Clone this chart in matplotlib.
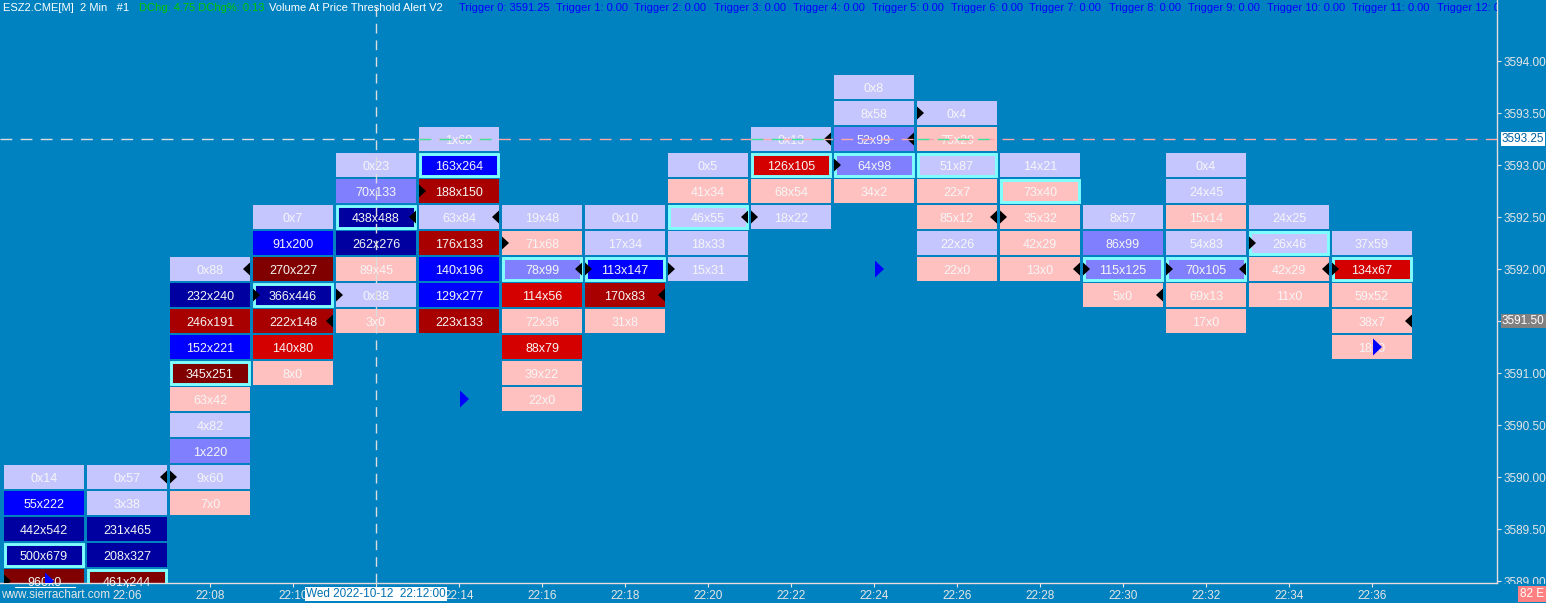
import matplotlib

matplotlib.use("Agg")
import matplotlib.pyplot as plt
from matplotlib.patches import Polygon, Rectangle

# footprint columns, 2 minute bars, one cell per 0.25 tick from the top price down
times = ["22:04", "22:06", "22:08", "22:10", "22:12", "22:14", "22:16", "22:18", "22:20",
         "22:22", "22:24", "22:26", "22:28", "22:30", "22:32", "22:34", "22:36"]
top_price = [3590.00, 3590.00, 3592.00, 3592.50, 3593.00, 3593.25, 3592.50, 3592.50, 3593.00,
             3593.25, 3593.75, 3593.50, 3593.00, 3592.50, 3593.00, 3592.50, 3592.25]
bid_volume = [
    [0, 55, 442, 500, 960],
    [0, 3, 231, 208, 461],
    [0, 232, 246, 152, 345, 63, 4, 1, 9, 7],
    [0, 91, 270, 366, 222, 140, 8],
    [0, 70, 438, 262, 89, 0, 3],
    [1, 163, 188, 63, 176, 140, 129, 223],
    [19, 71, 78, 114, 72, 88, 39, 22],
    [0, 17, 113, 170, 31],
    [0, 41, 46, 18, 15],
    [0, 126, 68, 18],
    [0, 8, 52, 64, 34],
    [0, 75, 51, 22, 85, 22, 22],
    [14, 73, 35, 42, 13],
    [8, 86, 115, 5],
    [0, 24, 15, 54, 70, 69, 17],
    [24, 26, 42, 11],
    [37, 134, 59, 38, 18],
]
ask_volume = [
    [14, 222, 542, 679, 0],
    [57, 38, 465, 327, 244],
    [88, 240, 191, 221, 251, 42, 82, 220, 60, 0],
    [7, 200, 227, 446, 148, 80, 0],
    [23, 133, 488, 276, 45, 38, 0],
    [60, 264, 150, 84, 133, 196, 277, 133],
    [48, 68, 99, 56, 36, 79, 22, 0],
    [10, 34, 147, 83, 8],
    [5, 34, 55, 33, 31],
    [13, 105, 54, 22],
    [8, 58, 99, 98, 2],
    [4, 29, 87, 7, 12, 26, 0],
    [21, 40, 32, 29, 0],
    [57, 99, 125, 0],
    [4, 45, 14, 83, 105, 13, 0],
    [25, 46, 29, 0],
    [59, 67, 52, 7, 0],
]
# cell shading class: L light ask, M ask, B strong ask, N heavy ask, P light bid, R bid, D strong bid, K heavy bid
shade = [
    "LBNNK", "LLNNK", "LNDBKPLMLP", "LBKNDRP", "LMNNPLP", "LBDLDBBD", "LPMRPRPP", "LLBDP",
    "LPLLL", "LRPL", "LLMMP", "LPLPPLP", "LPPPP", "LMMP", "LLPLMPP", "LLPP", "LRPPP",
]
# alert markers (bar index, price)
alert_up_side = [(0, 3589.00), (2, 3590.00), (3, 3591.75), (4, 3591.75), (5, 3592.75), (6, 3592.25),
                 (7, 3592.00), (8, 3592.00), (9, 3592.50), (10, 3593.00), (11, 3593.50), (12, 3592.50),
                 (13, 3592.00), (14, 3592.00), (15, 3592.25), (16, 3592.00)]
alert_down_side = [(1, 3590.00), (2, 3592.00), (3, 3591.50), (4, 3592.50), (5, 3592.50), (6, 3592.00),
                   (7, 3591.75), (8, 3592.50), (9, 3593.25), (10, 3593.25), (11, 3592.50), (12, 3592.00),
                   (13, 3591.75), (14, 3592.00), (15, 3592.00), (16, 3591.50)]
signal_marks = [(0, 3589.00), (5, 3590.75), (10, 3592.00), (16, 3591.25)]

price_ticks = [3589.00, 3589.50, 3590.00, 3590.50, 3591.00, 3591.50, 3592.00, 3592.50, 3593.00, 3593.50, 3594.00]
crosshair_bar = 4
crosshair_price = 3593.25
last_price = 3591.50
trigger_values = [3591.25, 0.00, 0.00, 0.00, 0.00, 0.00, 0.00, 0.00, 0.00, 0.00, 0.00, 0.00, 0.00]

BG = "#0082c0"
LIGHT = "#e6e6e6"
SHADES = {"L": "#c6c6ff", "M": "#8080ff", "B": "#0000ff", "N": "#0000a0",
          "P": "#ffc0c0", "R": "#d40000", "D": "#a80000", "K": "#800000"}
W, H = 1546, 603
PLOT_R, PLOT_B = 1497, 583
COL_PX, COL0_PX = 83, 44
PT_PX, Y0_PX = 104, 61  # pixels per 1.00 of price, pixel row of 3594.00

plt.rcParams["font.family"] = ["Liberation Sans", "DejaVu Sans"]

fig = plt.figure(figsize=(W / 100, H / 100), dpi=100, facecolor=BG)
ax = fig.add_axes([0, (H - PLOT_B) / H, PLOT_R / W, PLOT_B / H])
ax.set_facecolor(BG)
ax.set_xlim(-COL0_PX / COL_PX, (PLOT_R - COL0_PX) / COL_PX)
ax.set_ylim(3594 - (PLOT_B - Y0_PX) / PT_PX, 3594 + Y0_PX / PT_PX)

dx = 1 / COL_PX
dy = 1 / PT_PX

for i, (top, bids, asks, codes) in enumerate(zip(top_price, bid_volume, ask_volume, shade)):
    totals = [b + a for b, a in zip(bids, asks)]
    poc = totals.index(max(totals))
    for k, (b, a, c) in enumerate(zip(bids, asks, codes)):
        price = top - 0.25 * k
        ax.add_patch(Rectangle((i - 40 * dx, price - 12.3 * dy), 80 * dx, 24.6 * dy,
                               facecolor=SHADES[c], edgecolor="none", zorder=2))
        ax.text(i, price, f"{b}x{a}", ha="center", va="center_baseline", fontsize=9,
                color="#f6f6f6", zorder=5)
        if k == poc:
            ax.add_patch(Rectangle((i - 38.6 * dx, price - 10.9 * dy), 77.2 * dx, 21.8 * dy,
                                   fill=False, edgecolor="#80ffff", lw=2.1, zorder=3))

for i, p in alert_up_side:
    xl = i - 40 * dx
    ax.add_patch(Polygon([(xl, p + 6.5 * dy), (xl, p - 6.5 * dy), (xl + 7 * dx, p)],
                         closed=True, color="black", lw=0, zorder=6))
for i, p in alert_down_side:
    xr = i + 40 * dx
    ax.add_patch(Polygon([(xr, p + 6.5 * dy), (xr, p - 6.5 * dy), (xr - 7 * dx, p)],
                         closed=True, color="black", lw=0, zorder=6))
for i, p in signal_marks:
    ax.add_patch(Polygon([(i + 1 * dx, p + 8.5 * dy), (i + 1 * dx, p - 8.5 * dy), (i + 10 * dx, p)],
                         closed=True, color="#0000ff", lw=0, zorder=6))

# crosshair and price line
xmin, xmax = ax.get_xlim()
dash = (0, (8.5, 6))
ax.plot([xmin, crosshair_bar + 0.5], [crosshair_price] * 2, color="#dcdcdc", lw=1, ls=dash, zorder=7)
ax.plot([crosshair_bar + 0.5, xmax], [crosshair_price] * 2, color="#ffa8a8", lw=1, ls=dash, zorder=7)
for i in (5, 9, 11):
    ax.plot([i - 0.48, i + 0.48], [crosshair_price] * 2, color="#3ce39c", lw=1, ls=dash, zorder=7)
ax.axvline(crosshair_bar, color="#dcdcdc", lw=1, ls=(0, (7, 5)), zorder=7)

# axes
for side in ("left", "top"):
    ax.spines[side].set_visible(False)
for side in ("right", "bottom"):
    ax.spines[side].set_color("#e8dcdc")
    ax.spines[side].set_linewidth(1)
ax.yaxis.tick_right()
ax.set_yticks(price_ticks)
ax.set_yticklabels([f"{p:.2f}" for p in price_ticks])
ax.set_xticks(range(1, len(times)))
# the 22:12 label sits under the crosshair date flag
ax.set_xticklabels(["" if n == crosshair_bar else t for n, t in enumerate(times)][1:])
ax.tick_params(axis="both", colors=LIGHT, labelsize=8.5, length=3, width=0.8)
ax.tick_params(axis="y", pad=2)
ax.tick_params(axis="x", pad=2)


def fx(px):
    return px / W


def fy(py):
    return 1 - py / H


# cover the clipped bottom price label like the chart does
fig.patches.append(Rectangle((fx(PLOT_R + 1), 0), fx(W - PLOT_R), (H - PLOT_B - 1) / H,
                             transform=fig.transFigure, facecolor=BG, edgecolor="none", zorder=3))

# header line
head = [("ESZ2.CME[M]  2 Min   #1", "#ffffff", 3), ("DChg: 4.75 DChg%: 0.13", "#00c800", 139),
        ("Volume At Price Threshold Alert V2", "#ffffff", 269)]
trigger_x = [459, 556, 634, 714, 793, 872, 951, 1029, 1109, 1188, 1267, 1352, 1437]
for n, (v, x) in enumerate(zip(trigger_values, trigger_x)):
    head.append((f"Trigger {n}: {v:.2f}", "#0000ff", x))
for txt, col, x in head:
    ax.text(fx(x), fy(8), txt, transform=fig.transFigure, ha="left", va="center", fontsize=8,
            color=col, clip_on=True, zorder=8)

# price flags on the scale
fig.text(fx(1502), fy(139), f"{crosshair_price:.2f}", ha="left", va="center", fontsize=8.5,
         color="#0060a0", zorder=6, bbox=dict(boxstyle="square,pad=0.08", fc="white", ec="none"))
fig.text(fx(1502), fy(321), f"{last_price:.2f}", ha="left", va="center", fontsize=8.5,
         color="white", zorder=6, bbox=dict(boxstyle="square,pad=0.08", fc="#808080", ec="none"))

# bottom strip
fig.text(fx(376), fy(594), "Wed 2022-10-12  22:12:00", ha="center", va="center", fontsize=8.5,
         color="#0070b0", zorder=6, bbox=dict(boxstyle="square,pad=0.12", fc="white", ec="none"))
fig.text(fx(1), fy(595), "www.sierrachart.com", ha="left", va="center", fontsize=8.5, color=LIGHT, zorder=6)
fig.lines.append(plt.Line2D([fx(15), fx(75)], [fy(586.5)] * 2, transform=fig.transFigure,
                            color="white", lw=0.8, zorder=6))
fig.text(fx(1532), fy(594), "82 E", ha="center", va="center", fontsize=8.5, color="white", zorder=6,
         bbox=dict(boxstyle="square,pad=0.2", fc="#ff8080", ec="none"))

fig.savefig("out.png", dpi=100, facecolor=BG)
